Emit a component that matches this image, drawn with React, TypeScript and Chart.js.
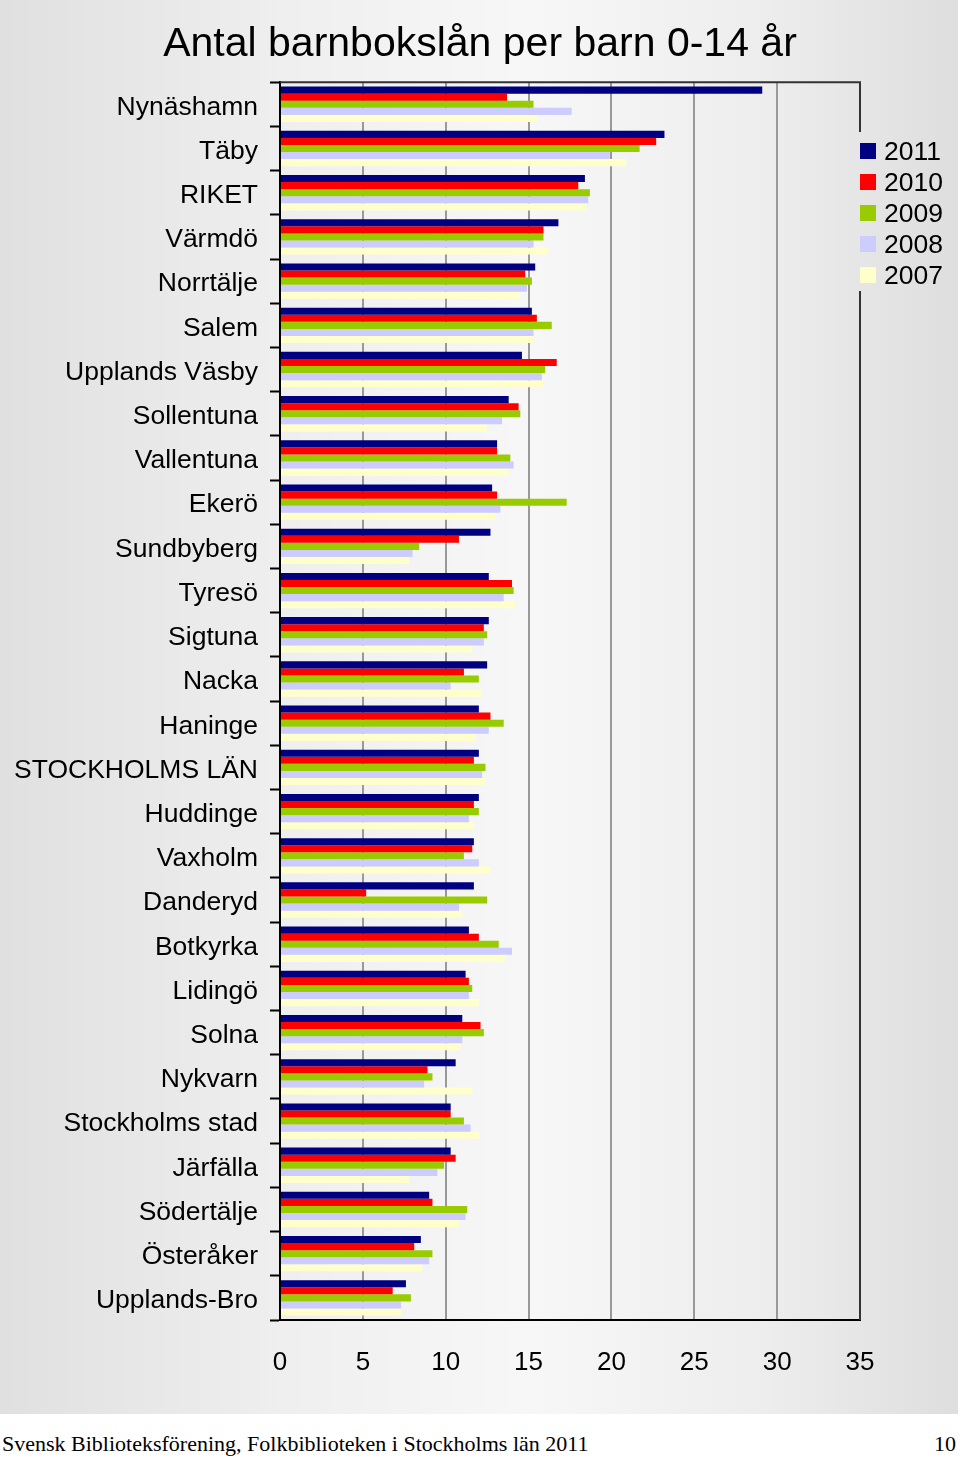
import React, { useEffect, useRef } from "react";
import { Chart, registerables } from "chart.js";

Chart.register(...registerables);

const categories = [
  "Nynäshamn", "Täby", "RIKET", "Värmdö", "Norrtälje", "Salem", "Upplands Väsby",
  "Sollentuna", "Vallentuna", "Ekerö", "Sundbyberg", "Tyresö", "Sigtuna", "Nacka",
  "Haninge", "STOCKHOLMS LÄN", "Huddinge", "Vaxholm", "Danderyd", "Botkyrka",
  "Lidingö", "Solna", "Nykvarn", "Stockholms stad", "Järfälla", "Södertälje",
  "Österåker", "Upplands-Bro",
];

const seriesNames = ["2011", "2010", "2009", "2008", "2007"];
const seriesColors = ["#000080", "#ff0000", "#99cc00", "#ccccff", "#ffffcc"];

const v2011 = [29.1, 23.2, 18.4, 16.8, 15.4, 15.2, 14.6, 13.8, 13.1, 12.8, 12.7, 12.6, 12.6, 12.5, 12.0, 12.0, 12.0, 11.7, 11.7, 11.4, 11.2, 11.0, 10.6, 10.3, 10.3, 9.0, 8.5, 7.6];
const v2010 = [13.7, 22.7, 18.0, 15.9, 14.8, 15.5, 16.7, 14.4, 13.1, 13.1, 10.8, 14.0, 12.3, 11.1, 12.7, 11.7, 11.7, 11.6, 5.2, 12.0, 11.4, 12.1, 8.9, 10.3, 10.6, 9.2, 8.1, 6.8];
const v2009 = [15.3, 21.7, 18.7, 15.9, 15.2, 16.4, 16.0, 14.5, 13.9, 17.3, 8.4, 14.1, 12.5, 12.0, 13.5, 12.4, 12.0, 11.1, 12.5, 13.2, 11.6, 12.3, 9.2, 11.1, 9.9, 11.3, 9.2, 7.9];
const v2008 = [17.6, 19.9, 18.6, 15.3, 14.9, 15.3, 15.8, 13.4, 14.1, 13.3, 8.0, 13.5, 12.3, 10.3, 12.6, 12.2, 11.4, 12.0, 10.8, 14.0, 11.4, 11.0, 8.7, 11.5, 9.5, 11.2, 9.0, 7.3];
const v2007 = [15.5, 20.9, 18.5, 16.2, 14.5, 15.3, 15.9, 12.5, 13.8, 13.0, 7.8, 14.2, 11.6, 12.2, 11.8, 12.4, 11.7, 12.7, 11.0, 13.6, 12.0, 10.9, 11.6, 12.0, 7.8, 10.8, 8.6, 7.3];

const seriesValues = [v2011, v2010, v2009, v2008, v2007];

const xMin = 0;
const xMax = 35;
const xStep = 5;

const titleText = "Antal barnbokslån per barn 0-14 år";
const footerText = "Svensk Biblioteksförening, Folkbiblioteken i Stockholms län 2011";
const pageNumber = "10";

const SANS = "'Liberation Sans', Arial, sans-serif";

function makeBg(ctx: CanvasRenderingContext2D) {
  const g = ctx.createLinearGradient(0, 0, 958, 0);
  g.addColorStop(0, "#e0e0e0");
  g.addColorStop(0.3, "#efefef");
  g.addColorStop(0.55, "#f7f7f7");
  g.addColorStop(0.8, "#ededed");
  g.addColorStop(1, "#dedede");
  return g;
}

const framePlugin = {
  id: "frameAndLegend",
  beforeDraw(chart: any) {
    const { ctx } = chart;
    ctx.save();
    ctx.fillStyle = makeBg(ctx);
    ctx.fillRect(0, 0, 958, 1414);
    ctx.restore();
  },
  afterDraw(chart: any) {
    const { ctx, chartArea } = chart;
    ctx.save();
    ctx.strokeStyle = "#333333";
    ctx.lineWidth = 2;
    ctx.beginPath();
    ctx.moveTo(chartArea.left, chartArea.top);
    ctx.lineTo(chartArea.right, chartArea.top);
    ctx.lineTo(chartArea.right, chartArea.bottom);
    ctx.stroke();

    const lx = chartArea.right;
    const ly = 134;
    const rowH = 31;
    ctx.fillStyle = makeBg(ctx);
    ctx.fillRect(lx - 2, ly - 2, 96, rowH * 5 + 4);
    ctx.font = `26.5px ${SANS}`;
    ctx.textBaseline = "middle";
    ctx.textAlign = "left";
    chart.data.datasets.forEach((ds: any, i: number) => {
      const cy = ly + rowH * i + 17;
      ctx.fillStyle = ds.backgroundColor;
      ctx.fillRect(lx, cy - 8, 16, 16);
      ctx.fillStyle = "#000";
      ctx.fillText(ds.label, lx + 24, cy + 2);
    });
    ctx.restore();
  },
};

function BarChart() {
  const ref = useRef<HTMLCanvasElement>(null);
  useEffect(() => {
    if (!ref.current) return;
    const chart = new Chart(ref.current, {
      type: "bar",
      data: {
        labels: categories,
        datasets: seriesNames.map((name, i) => ({
          label: name,
          data: seriesValues[i],
          backgroundColor: seriesColors[i],
          borderWidth: 0,
          categoryPercentage: 0.8,
          barPercentage: 1.0,
        })),
      },
      options: {
        indexAxis: "y",
        animation: false,
        responsive: false,
        maintainAspectRatio: false,
        layout: { padding: { left: 0, right: 0, top: 0, bottom: 0 } },
        plugins: {
          legend: { display: false },
          tooltip: { enabled: false },
          title: {
            display: true,
            text: titleText,
            color: "#000",
            font: { family: SANS, size: 41, weight: "normal" },
            padding: { top: 20, bottom: 13 },
          },
        },
        scales: {
          x: {
            min: xMin,
            max: xMax,
            ticks: {
              stepSize: xStep,
              color: "#000",
              font: { family: SANS, size: 26 },
              padding: 27,
            },
            grid: {
              drawTicks: false,
              color: (c: any) =>
                c.tick && (c.tick.value === xMin || c.tick.value === xMax) ? "rgba(0,0,0,0)" : "#999999",
              lineWidth: 2,
            },
            border: { color: "#000", width: 2 },
            afterFit: (s: any) => {
              s.height = 94;
            },
          },
          y: {
            ticks: {
              color: "#000",
              font: { family: SANS, size: 26.5 },
              padding: 12,
              labelOffset: 3,
              autoSkip: false,
            },
            grid: {
              offset: true,
              drawOnChartArea: false,
              drawTicks: true,
              tickLength: 10,
              tickColor: "#000",
              tickWidth: 2,
            },
            border: { color: "#000", width: 2 },
            afterFit: (s: any) => {
              s.width = 280;
            },
          },
          yRight: {
            type: "category",
            position: "right",
            labels: categories,
            display: true,
            ticks: { display: false },
            grid: { display: false, drawTicks: false },
            border: { display: false },
            afterFit: (s: any) => {
              s.width = 100;
            },
          },
        },
      },
      plugins: [framePlugin],
    } as any);
    return () => chart.destroy();
  }, []);
  return <canvas ref={ref} width={960} height={1414} style={{ position: "absolute", left: 0, top: 0 }} />;
}

export default function App() {
  return (
    <div style={{ position: "absolute", left: 0, top: 0, width: 960, height: 1460, background: "#fff", overflow: "hidden" }}>
      <BarChart />
      <div
        style={{
          position: "absolute",
          left: 2,
          top: 1431,
          fontFamily: "'Liberation Serif', 'DejaVu Serif', serif",
          fontSize: 22,
          color: "#000",
          whiteSpace: "nowrap",
        }}
      >
        {footerText}
      </div>
      <div
        style={{
          position: "absolute",
          right: 4,
          top: 1431,
          fontFamily: "'Liberation Serif', 'DejaVu Serif', serif",
          fontSize: 22,
          color: "#000",
        }}
      >
        {pageNumber}
      </div>
    </div>
  );
}
